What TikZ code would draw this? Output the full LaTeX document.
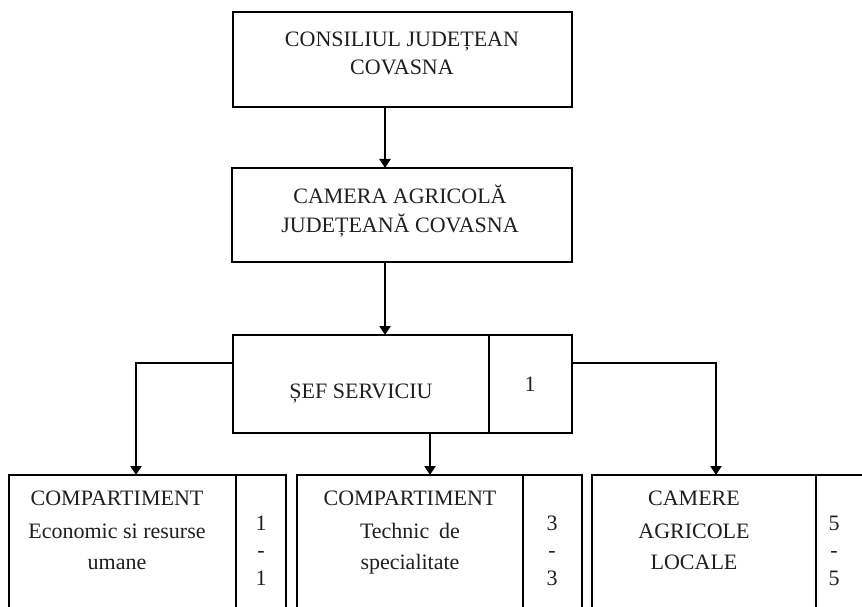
\documentclass[tikz,border=0pt]{standalone}
\usepackage{fontspec}
\setmainfont{Liberation Serif}
\usetikzlibrary{arrows.meta,calc}
\tikzset{
  box/.style={draw=black, line width=2.5pt, rectangle, inner sep=0pt, outer sep=0pt, anchor=north west},
  txt/.style={font=\fontsize{22}{26}\selectfont, anchor=base, inner sep=0pt, text=black!88},
  arr/.style={line width=2.2pt, -{Triangle[length=9pt,width=11pt]}},
  divline/.style={line width=1.6pt},
  divthick/.style={line width=2.5pt}
}
\begin{document}
\begin{tikzpicture}[x=1pt,y=-1pt]
\useasboundingbox (0,0) rectangle (862,607);
\clip (0,0) rectangle (862,607);
% boxes
\node[box, minimum width=339pt, minimum height=95pt] (b1) at (233,12) {};
\node[box, minimum width=340pt, minimum height=94pt] (b2) at (232,168) {};
\node[box, minimum width=339pt, minimum height=98pt] (b3) at (233,335) {};
\node[box, minimum width=277pt, minimum height=200pt] (bA) at (9,475) {};
\node[box, minimum width=285pt, minimum height=200pt] (bB) at (297,475) {};
\node[box, minimum width=280pt, minimum height=200pt] (bC) at (592,475) {};
% dividers
\coordinate (d3) at (489,0);
\coordinate (dA) at (236,0);
\coordinate (dB) at (523,0);
\coordinate (dC) at (816,0);
\draw[divline] (d3 |- b3.north) -- (d3 |- b3.south);
\draw[divthick] (dA |- bA.north) -- (dA |- bA.south);
\draw[divthick] (dB |- bB.north) -- (dB |- bB.south);
\draw[divthick] (dC |- bC.north) -- (dC |- bC.south);
% connectors
\coordinate (ax) at (385,0);
\coordinate (by) at (0,363);
\coordinate (lx) at (136,0);
\coordinate (mx) at (430,0);
\coordinate (rx) at (716,0);
\draw[arr] (ax |- b1.south) -- (ax |- b2.north);
\draw[arr] (ax |- b2.south) -- (ax |- b3.north);
\draw[arr] (b3.west |- by) -| (lx |- bA.north);
\draw[arr] (mx |- b3.south) -- (mx |- bB.north);
\draw[arr] (b3.east |- by) -| (rx |- bC.north);
% texts
\node[txt] (t1a) at (402,47) {CONSILIUL JUDEȚEAN};
\node[txt] (t1b) at (402,75) {COVASNA};
\node[txt] (t2a) at (400,203) {CAMERA AGRICOLĂ};
\node[txt] (t2b) at (400,232) {JUDEȚEANĂ COVASNA};
\node[txt] (t3) at (361,398) {ȘEF SERVICIU};
\node[txt] (n3) at (530,391) {1};
\node[txt] (tA1) at (117,505) {COMPARTIMENT};
\node[txt] (tA2) at (117,538) {Economic si resurse};
\node[txt] (tA3) at (117,569) {umane};
\node[txt] (nA1) at (261,530) {1};
\node[txt] (nA2) at (261,557.5) {-};
\node[txt] (nA3) at (261,585) {1};
\node[txt] (tB1) at (410,505) {COMPARTIMENT};
\node[txt] (tB2) at (410,538) {Technic\hspace{0.45em}de};
\node[txt] (tB3) at (410,569) {specialitate};
\node[txt] (nB1) at (552,530) {3};
\node[txt] (nB2) at (552,557.5) {-};
\node[txt] (nB3) at (552,585) {3};
\node[txt] (tC1) at (694,505) {CAMERE};
\node[txt] (tC2) at (694,538) {AGRICOLE};
\node[txt] (tC3) at (694,569) {LOCALE};
\node[txt] (nC1) at (834,530) {5};
\node[txt] (nC2) at (834,557.5) {-};
\node[txt] (nC3) at (834,585) {5};
\end{tikzpicture}
\end{document}
